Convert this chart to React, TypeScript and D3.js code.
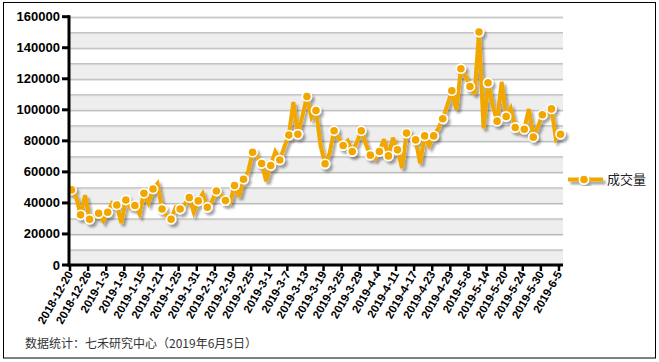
import React, { useEffect, useRef } from 'react'
import * as d3 from 'd3'

// trading days, 2018-12-20 .. 2019-6-5
const dates = [
  '2018-12-20', '2018-12-21', '2018-12-24', '2018-12-25', '2018-12-26', '2018-12-27', '2018-12-28',
  '2019-1-2', '2019-1-3', '2019-1-4', '2019-1-7', '2019-1-8', '2019-1-9', '2019-1-10', '2019-1-11',
  '2019-1-14', '2019-1-15', '2019-1-16', '2019-1-17', '2019-1-18', '2019-1-21', '2019-1-22', '2019-1-23',
  '2019-1-24', '2019-1-25', '2019-1-28', '2019-1-29', '2019-1-30', '2019-1-31',
  '2019-2-1', '2019-2-11', '2019-2-12', '2019-2-13', '2019-2-14', '2019-2-15', '2019-2-18', '2019-2-19',
  '2019-2-20', '2019-2-21', '2019-2-22', '2019-2-25', '2019-2-26', '2019-2-27', '2019-2-28',
  '2019-3-1', '2019-3-4', '2019-3-5', '2019-3-6', '2019-3-7', '2019-3-8', '2019-3-11', '2019-3-12',
  '2019-3-13', '2019-3-14', '2019-3-15', '2019-3-18', '2019-3-19', '2019-3-20', '2019-3-21', '2019-3-22',
  '2019-3-25', '2019-3-26', '2019-3-27', '2019-3-28', '2019-3-29',
  '2019-4-1', '2019-4-2', '2019-4-3', '2019-4-4', '2019-4-8', '2019-4-9', '2019-4-10', '2019-4-11',
  '2019-4-12', '2019-4-15', '2019-4-16', '2019-4-17', '2019-4-18', '2019-4-19', '2019-4-22', '2019-4-23',
  '2019-4-24', '2019-4-25', '2019-4-26', '2019-4-29', '2019-4-30',
  '2019-5-6', '2019-5-7', '2019-5-8', '2019-5-9', '2019-5-10', '2019-5-13', '2019-5-14', '2019-5-15',
  '2019-5-16', '2019-5-17', '2019-5-20', '2019-5-21', '2019-5-22', '2019-5-23', '2019-5-24', '2019-5-27',
  '2019-5-28', '2019-5-29', '2019-5-30', '2019-5-31',
  '2019-6-3', '2019-6-4', '2019-6-5',
]

// 成交量 (one value per trading day)
const volume = [
  48400, 44000, 32300, 45000, 29500, 31000, 33300, 28500, 34000, 40000,
  38700, 27000, 41900, 37000, 38300, 33000, 46200, 40000, 49000, 52500,
  36100, 32000, 29500, 37000, 36100, 39000, 43400, 34000, 41300, 46000,
  37200, 41000, 47700, 45000, 41500, 40000, 51200, 44000, 55300, 60000,
  72700, 70000, 65400, 54000, 64100, 73000, 67700, 76000, 83700, 105000,
  84300, 96000, 108600, 95000, 99600, 77000, 65200, 72000, 86500, 82000,
  77000, 80000, 73100, 79000, 86500, 78000, 70800, 68500, 73100, 81000,
  70300, 82000, 74200, 62500, 85000, 83000, 80600, 65500, 83200, 77000,
  83200, 88000, 94200, 103000, 112300, 100000, 126500, 122000, 115000, 110000,
  150100, 88000, 117400, 103000, 92700, 118000, 95700, 101000, 88600, 86000,
  87500, 100500, 82400, 89000, 96800, 97000, 100600, 81000, 84300,
]

const yTicks = [0, 20000, 40000, 60000, 80000, 100000, 120000, 140000, 160000]
const seriesName = '成交量'
const footNote = '数据统计：七禾研究中心（2019年6月5日）'

const orange = '#F2A700'
const latin = '"Liberation Sans", Arial, sans-serif'
const cjk = '"Noto Sans CJK SC", "Liberation Sans", sans-serif'

export default function App() {
  const ref = useRef<SVGSVGElement>(null)

  useEffect(() => {
    const svg = d3.select(ref.current)
    svg.selectAll('*').remove()

    const left = 70,
      right = 563,
      top = 16.7,
      bottom = 265

    const x = d3.scaleLinear().domain([0, dates.length - 1]).range([71.5, 560.5])
    const y = d3.scaleLinear().domain([0, 160000]).range([bottom, top])

    // drop shadow for the series
    const defs = svg.append('defs')
    defs
      .append('filter')
      .attr('id', 'shadow')
      .attr('x', '-20%')
      .attr('y', '-20%')
      .attr('width', '140%')
      .attr('height', '140%')
      .append('feDropShadow')
      .attr('dx', 2.5)
      .attr('dy', 3)
      .attr('stdDeviation', 1.3)
      .attr('flood-color', '#000')
      .attr('flood-opacity', 0.35)

    svg.append('rect').attr('width', 659).attr('height', 362).attr('fill', '#fff')

    // alternating bands
    const bands = d3.range(0, 160000, 10000)
    svg
      .append('g')
      .selectAll('rect')
      .data(bands.filter((v) => (v / 10000) % 2 === 0))
      .join('rect')
      .attr('x', left)
      .attr('width', right - left)
      .attr('y', (d) => y(d + 10000))
      .attr('height', (d) => y(d) - y(d + 10000))
      .attr('fill', '#EEEEEE')

    // grid lines
    const grid = svg.append('g')
    grid
      .selectAll('line.g2')
      .data(bands.map((v) => v + 10000))
      .join('line')
      .attr('class', 'g2')
      .attr('x1', left)
      .attr('x2', right)
      .attr('y1', (d) => y(d) + 1.5)
      .attr('y2', (d) => y(d) + 1.5)
      .attr('stroke', '#DDDDDD')
      .attr('stroke-width', 1)
    grid
      .selectAll('line.g1')
      .data(bands.map((v) => v + 10000))
      .join('line')
      .attr('class', 'g1')
      .attr('x1', left)
      .attr('x2', right)
      .attr('y1', (d) => y(d) + 0.5)
      .attr('y2', (d) => y(d) + 0.5)
      .attr('stroke', '#B5B5B5')
      .attr('stroke-width', 1)

    // series
    const line = d3
      .line<number>()
      .x((d, i) => x(i))
      .y((d) => y(d))
    const series = svg.append('g').attr('filter', 'url(#shadow)')
    series
      .append('path')
      .datum(volume)
      .attr('d', line)
      .attr('fill', 'none')
      .attr('stroke', orange)
      .attr('stroke-width', 4)
      .attr('stroke-linejoin', 'miter')
      .attr('stroke-miterlimit', 3)
    series
      .selectAll('circle')
      .data(volume.map((v, i) => ({ v, i })).filter((d) => d.i % 2 === 0))
      .join('circle')
      .attr('cx', (d) => x(d.i))
      .attr('cy', (d) => y(d.v))
      .attr('r', 4.6)
      .attr('fill', orange)
      .attr('stroke', '#fff')
      .attr('stroke-width', 1.6)

    // y axis
    const yAxis = svg.append('g')
    yAxis
      .append('line')
      .attr('x1', 69)
      .attr('x2', 69)
      .attr('y1', top - 1.5)
      .attr('y2', bottom + 1.5)
      .attr('stroke', '#000')
      .attr('stroke-width', 3)
    yAxis
      .selectAll('line.tk')
      .data(yTicks)
      .join('line')
      .attr('class', 'tk')
      .attr('x1', 62)
      .attr('x2', 69)
      .attr('y1', (d) => y(d))
      .attr('y2', (d) => y(d))
      .attr('stroke', '#000')
      .attr('stroke-width', 3)
    yAxis
      .selectAll('text')
      .data(yTicks)
      .join('text')
      .attr('x', 60)
      .attr('y', (d) => y(d) + 4.5)
      .attr('text-anchor', 'end')
      .attr('font-family', latin)
      .attr('font-weight', 'bold')
      .attr('font-size', 13)
      .attr('fill', '#000')
      .text((d) => d)

    // x axis
    const xTickIdx = d3.range(0, dates.length, 4)
    const xAxis = svg.append('g')
    xAxis
      .append('line')
      .attr('x1', 67.5)
      .attr('x2', right)
      .attr('y1', bottom)
      .attr('y2', bottom)
      .attr('stroke', '#000')
      .attr('stroke-width', 3)
    xAxis
      .selectAll('line.tk')
      .data(xTickIdx)
      .join('line')
      .attr('class', 'tk')
      .attr('x1', (d) => x(d) - 1.5)
      .attr('x2', (d) => x(d) - 1.5)
      .attr('y1', bottom)
      .attr('y2', bottom + 6)
      .attr('stroke', '#000')
      .attr('stroke-width', 2.5)
    xAxis
      .selectAll('text')
      .data(xTickIdx)
      .join('text')
      .attr('text-anchor', 'end')
      .attr('transform', (d) => `translate(${x(d) + 2},${bottom + 9}) rotate(-60)`)
      .attr('font-family', latin)
      .attr('font-weight', 'bold')
      .attr('font-size', 11.5)
      .attr('fill', '#000')
      .text((d) => dates[d])

    // legend
    const lg = svg.append('g')
    const lgItem = lg.append('g').attr('filter', 'url(#shadow)')
    lgItem
      .append('line')
      .attr('x1', 568)
      .attr('x2', 603)
      .attr('y1', 179.5)
      .attr('y2', 179.5)
      .attr('stroke', orange)
      .attr('stroke-width', 4)
    lgItem
      .append('circle')
      .attr('cx', 584)
      .attr('cy', 179.5)
      .attr('r', 4.6)
      .attr('fill', orange)
      .attr('stroke', '#fff')
      .attr('stroke-width', 1.6)
    lg.append('text')
      .attr('x', 607)
      .attr('y', 184)
      .attr('font-family', cjk)
      .attr('font-size', 13)
      .attr('fill', '#222')
      .text(seriesName)

    // footnote
    svg
      .append('text')
      .attr('x', 25)
      .attr('y', 348)
      .attr('font-family', cjk)
      .attr('font-size', 12)
      .attr('fill', '#333')
      .text(footNote)

    // frame
    svg
      .append('rect')
      .attr('x', 3.5)
      .attr('y', 2.5)
      .attr('width', 652)
      .attr('height', 355.5)
      .attr('fill', 'none')
      .attr('stroke', '#000')
      .attr('stroke-width', 1)
  }, [])

  return (
    <svg
      ref={ref}
      width={659}
      height={362}
      style={{ position: 'absolute', left: 0, top: 0, display: 'block' }}
    />
  )
}
